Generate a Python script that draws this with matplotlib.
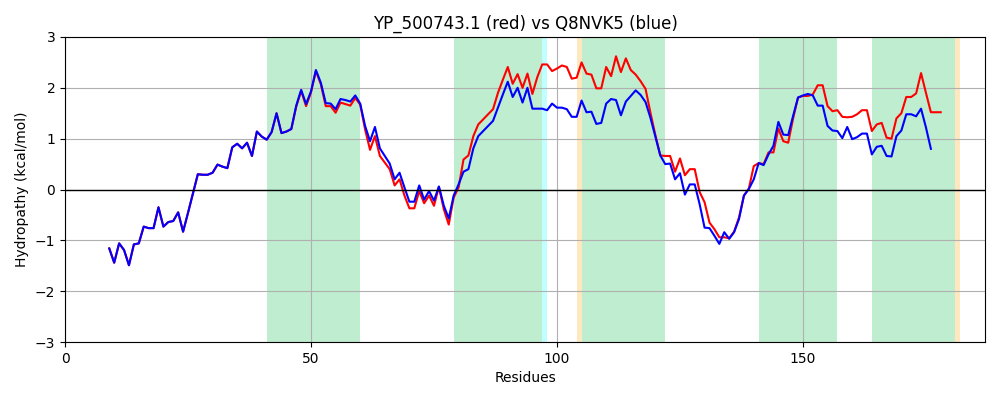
import numpy as np
import matplotlib
matplotlib.use("Agg")
import matplotlib.pyplot as plt

OUTPUT = "out.png"

# =========================
# DATA
# =========================
START_RES = 9

# hydropathy (kcal/mol), residues 9..178
red_vals = [
    -1.16, -1.44, -1.06, -1.19, -1.49, -1.08, -1.06, -0.73, -0.76, -0.76,   # 9-18
    -0.35, -0.73, -0.64, -0.62, -0.45, -0.83, -0.46, -0.08, 0.30, 0.29,     # 19-28
    0.29, 0.33, 0.49, 0.45, 0.42, 0.83, 0.90, 0.81, 0.92, 0.66,             # 29-38
    1.14, 1.04, 0.98, 1.13, 1.50, 1.11, 1.14, 1.19, 1.63, 1.94,             # 39-48
    1.64, 1.91, 2.33, 2.07, 1.64, 1.64, 1.51, 1.71, 1.68, 1.65,             # 49-58
    1.80, 1.67, 1.18, 0.78, 1.05, 0.66, 0.53, 0.40, 0.08, 0.20,             # 59-68
    -0.12, -0.37, -0.37, -0.03, -0.27, -0.12, -0.32, 0.05, -0.39, -0.69,    # 69-78
    -0.16, 0.04, 0.59, 0.67, 1.05, 1.28, 1.38, 1.48, 1.58, 1.90,            # 79-88
    2.16, 2.41, 2.08, 2.27, 2.00, 2.28, 1.88, 2.21, 2.46, 2.46,             # 89-98
    2.33, 2.38, 2.44, 2.41, 2.18, 2.20, 2.50, 2.28, 2.26, 1.99,             # 99-108
    1.99, 2.41, 2.23, 2.62, 2.31, 2.58, 2.35, 2.26, 2.13, 1.98,             # 109-118
    1.51, 1.07, 0.67, 0.66, 0.66, 0.35, 0.61, 0.28, 0.40, 0.40,             # 119-128
    -0.05, -0.25, -0.65, -0.78, -0.94, -0.94, -0.96, -0.83, -0.55, -0.12,   # 129-138
    0.02, 0.46, 0.52, 0.50, 0.73, 0.73, 1.20, 0.95, 0.92, 1.40,             # 139-148
    1.81, 1.84, 1.84, 1.87, 2.05, 2.05, 1.64, 1.54, 1.56, 1.43,             # 149-158
    1.42, 1.43, 1.48, 1.56, 1.56, 1.15, 1.28, 1.31, 1.02, 1.00,             # 159-168
    1.40, 1.50, 1.82, 1.82, 1.89, 2.29, 1.90, 1.52, 1.52, 1.52,             # 169-178
]

# residues 9..176
blue_vals = [
    -1.16, -1.44, -1.06, -1.19, -1.49, -1.08, -1.06, -0.73, -0.76, -0.76,   # 9-18
    -0.35, -0.73, -0.64, -0.62, -0.45, -0.83, -0.46, -0.08, 0.30, 0.29,     # 19-28
    0.29, 0.33, 0.49, 0.45, 0.42, 0.83, 0.90, 0.81, 0.92, 0.66,             # 29-38
    1.14, 1.04, 0.98, 1.13, 1.50, 1.11, 1.14, 1.19, 1.65, 1.96,             # 39-48
    1.68, 1.93, 2.35, 2.10, 1.70, 1.69, 1.58, 1.78, 1.76, 1.73,             # 49-58
    1.85, 1.69, 1.25, 0.95, 1.23, 0.81, 0.66, 0.51, 0.20, 0.33,             # 59-68
    0.04, -0.24, -0.24, 0.08, -0.20, -0.03, -0.22, 0.06, -0.32, -0.57,      # 69-78
    -0.12, 0.10, 0.35, 0.40, 0.81, 1.05, 1.15, 1.25, 1.35, 1.61,            # 79-88
    1.87, 2.12, 1.82, 2.00, 1.71, 2.00, 1.59, 1.59, 1.59, 1.56,             # 89-98
    1.69, 1.61, 1.61, 1.58, 1.43, 1.43, 1.75, 1.52, 1.53, 1.29,             # 99-108
    1.31, 1.69, 1.78, 1.76, 1.46, 1.73, 1.84, 1.95, 1.86, 1.72,             # 109-118
    1.41, 1.04, 0.67, 0.50, 0.51, 0.20, 0.32, -0.10, 0.10, 0.10,            # 119-128
    -0.29, -0.75, -0.76, -0.91, -1.07, -0.84, -0.97, -0.84, -0.58, -0.12,   # 129-138
    0.01, 0.20, 0.52, 0.48, 0.69, 0.86, 1.33, 1.08, 1.07, 1.45,             # 139-148
    1.81, 1.85, 1.88, 1.85, 1.65, 1.65, 1.25, 1.16, 1.15, 1.01,             # 149-158
    1.23, 0.99, 1.03, 1.10, 1.10, 0.69, 0.84, 0.86, 0.66, 0.65,             # 159-168
    1.05, 1.16, 1.48, 1.48, 1.44, 1.59, 1.22, 0.80,                         # 169-176
]

# predicted TM segments (start, end)
red_tm = [(41, 60), (79, 97), (104, 122), (141, 157), (164, 182)]
blue_tm = [(41, 60), (79, 98), (105, 122), (141, 157), (164, 181)]

x_ticks = [0, 50, 100, 150]

# =========================
# PLOT
# =========================
fig, ax = plt.subplots(figsize=(10, 4), dpi=100)

for s, e in red_tm:
    ax.axvspan(s, e, color="orange", alpha=0.25, lw=0)
for s, e in blue_tm:
    ax.axvspan(s, e, color="cyan", alpha=0.25, lw=0)

x_red = np.arange(START_RES, START_RES + len(red_vals))
x_blue = np.arange(START_RES, START_RES + len(blue_vals))

ax.plot(x_red, red_vals, color="red")
ax.plot(x_blue, blue_vals, color="blue")

ax.axhline(0, color="black", linewidth=1)
ax.grid(True)
ax.set_xlim(0, 187)
ax.set_ylim(-3, 3)
ax.set_xticks(x_ticks)

ax.set_title("YP_500743.1 (red) vs Q8NVK5 (blue)")
ax.set_xlabel("Residues")
ax.set_ylabel("Hydropathy (kcal/mol)")

plt.subplots_adjust(left=0.065, right=0.985, top=0.9075, bottom=0.145)
plt.savefig(OUTPUT, dpi=100)
